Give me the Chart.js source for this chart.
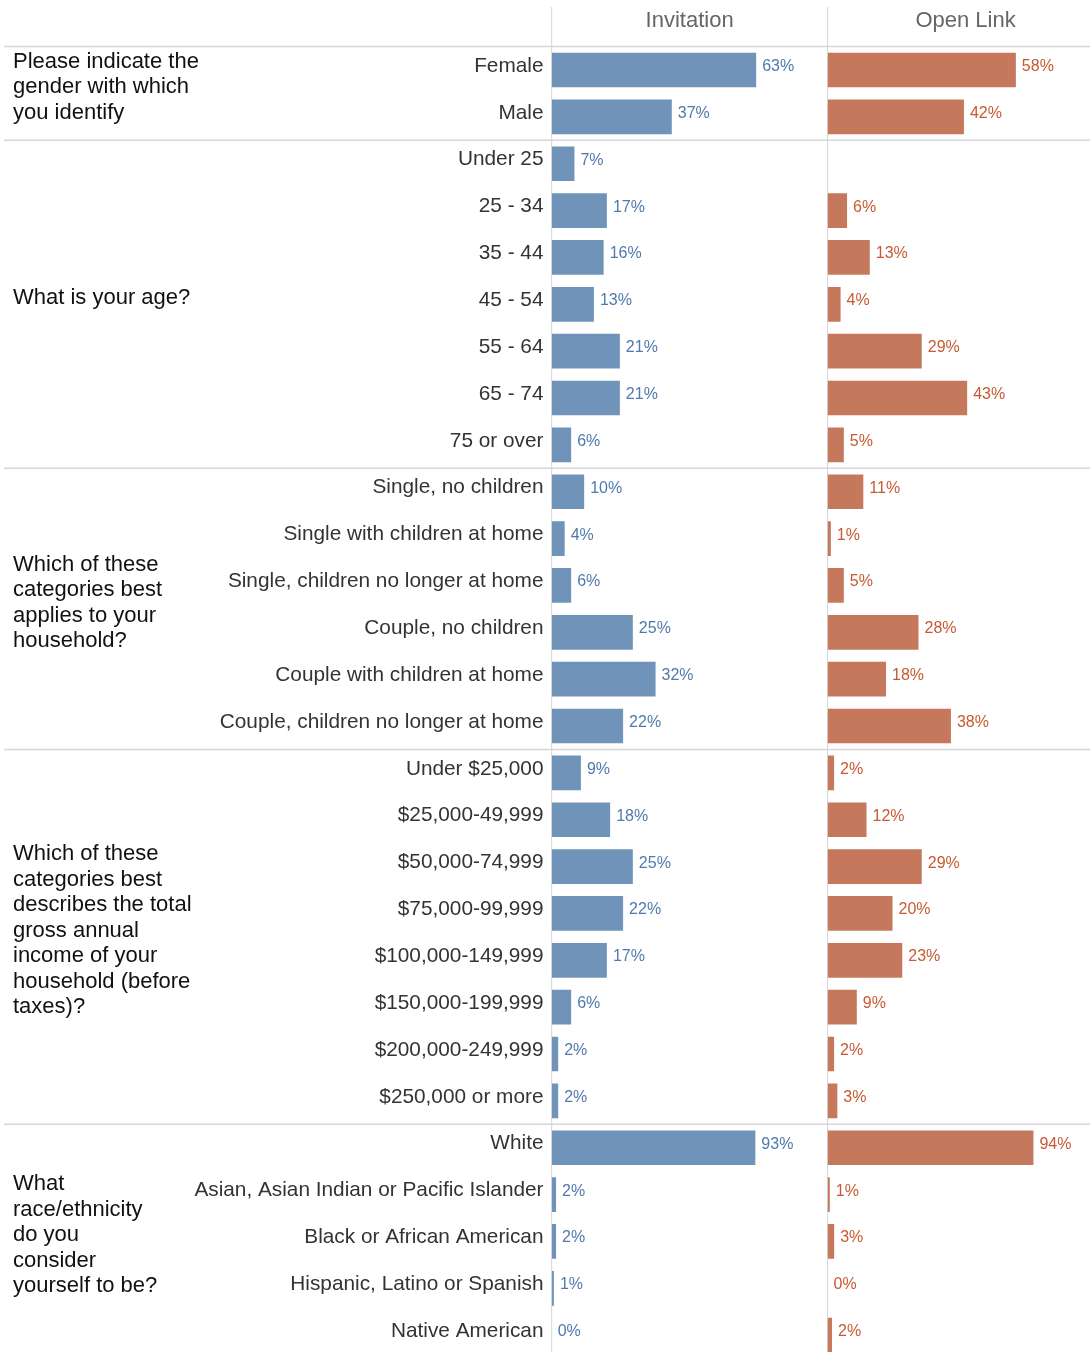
<!DOCTYPE html>
<html>
<head>
<meta charset="utf-8">
<title>Survey respondents by channel</title>
<script src="https://cdn.jsdelivr.net/npm/chart.js@4.4.1/dist/chart.umd.min.js"></script>
<style>
  html, body { margin: 0; padding: 0; background: #fff; }
  body { width: 1090px; height: 1352px; overflow: hidden; position: relative; }
  .panel { position: absolute; top: 0; height: 1359px; }
  #invitePanel { left: 0; width: 828px; }
  #openPanel { left: 827px; width: 277px; }
</style>
</head>
<body>
<div class="panel" id="invitePanel"><canvas id="inviteChart"></canvas></div>
<div class="panel" id="openPanel"><canvas id="openChart"></canvas></div>
<script>
// questions, answer categories and percentages per channel
const genderQuestion = ['Please indicate the', 'gender with which', 'you identify'];
const ageQuestion = ['What is your age?'];
const householdQuestion = ['Which of these', 'categories best', 'applies to your', 'household?'];
const incomeQuestion = ['Which of these', 'categories best', 'describes the total', 'gross annual',
  'income of your', 'household (before', 'taxes)?'];
const raceQuestion = ['What', 'race/ethnicity', 'do you', 'consider', 'yourself to be?'];

const genderLabels = ['Female', 'Male'];
const ageLabels = ['Under 25', '25 - 34', '35 - 44', '45 - 54', '55 - 64', '65 - 74', '75 or over'];
const householdLabels = ['Single, no children', 'Single with children at home',
  'Single, children no longer at home', 'Couple, no children', 'Couple with children at home',
  'Couple, children no longer at home'];
const incomeLabels = ['Under $25,000', '$25,000-49,999', '$50,000-74,999', '$75,000-99,999',
  '$100,000-149,999', '$150,000-199,999', '$200,000-249,999', '$250,000 or more'];
const raceLabels = ['White', 'Asian, Asian Indian or Pacific Islander', 'Black or African American',
  'Hispanic, Latino or Spanish', 'Native American'];

const inviteGender = [63, 37];
const inviteAge = [7, 17, 16, 13, 21, 21, 6];
const inviteHousehold = [10, 4, 6, 25, 32, 22];
const inviteIncome = [9, 18, 25, 22, 17, 6, 2, 2];
const inviteRace = [93, 2, 2, 1, 0];

const openGender = [58, 42];
const openAge = [null, 6, 13, 4, 29, 43, 5];
const openHousehold = [11, 1, 5, 28, 18, 38];
const openIncome = [2, 12, 29, 20, 23, 9, 2, 3];
const openRace = [94, 1, 3, 0, 2];

// race answers sit on a wider axis than the other questions
const mainAxisMax = 85;
const raceAxisMax = 126;

const groups = [
  { question: genderQuestion, labels: genderLabels, invite: inviteGender, open: openGender, axis: 'x' },
  { question: ageQuestion, labels: ageLabels, invite: inviteAge, open: openAge, axis: 'x' },
  { question: householdQuestion, labels: householdLabels, invite: inviteHousehold, open: openHousehold, axis: 'x' },
  { question: incomeQuestion, labels: incomeLabels, invite: inviteIncome, open: openIncome, axis: 'x' },
  { question: raceQuestion, labels: raceLabels, invite: inviteRace, open: openRace, axis: 'xr' },
];

const allLabels = groups.flatMap(g => g.labels);

function seriesFor(key, axis) {
  return groups.flatMap(g => g.labels.map((_, i) => (g.axis === axis ? g[key][i] : null)));
}

function makeDatasets(key, barColor, textColor) {
  return ['x', 'xr'].map(axis => ({
    data: seriesFor(key, axis),
    xAxisID: axis,
    backgroundColor: barColor,
    valueColor: textColor,
    grouped: false,
    barPercentage: 0.74,
    categoryPercentage: 1,
  }));
}

const FONT = '"Liberation Sans", Arial, sans-serif';
Chart.defaults.font.family = FONT;

function bandSize(y) {
  return y.getPixelForValue(1) - y.getPixelForValue(0);
}

// separators between questions plus the panel's left rule
const gridLines = {
  id: 'gridLines',
  beforeDatasetsDraw(chart, args, opts) {
    const { ctx, chartArea, scales: { y } } = chart;
    const band = bandSize(y);
    ctx.save();
    ctx.strokeStyle = '#d6d6d6';
    ctx.lineWidth = 1.5;
    let idx = 0;
    groups.forEach(g => {
      const yy = y.getPixelForValue(idx) - band / 2;
      ctx.beginPath();
      ctx.moveTo(opts.left, yy);
      ctx.lineTo(chart.width, yy);
      ctx.stroke();
      idx += g.labels.length;
    });
    ctx.lineWidth = 1;
    ctx.beginPath();
    ctx.moveTo(chartArea.left, 7);
    ctx.lineTo(chartArea.left, chartArea.bottom);
    ctx.stroke();
    ctx.restore();
  }
};

const panelHeader = {
  id: 'panelHeader',
  afterDraw(chart, args, opts) {
    const { ctx, chartArea } = chart;
    ctx.save();
    ctx.font = '22px ' + FONT;
    ctx.fillStyle = '#666666';
    ctx.textAlign = 'center';
    ctx.textBaseline = 'middle';
    ctx.fillText(opts.text, (chartArea.left + chartArea.right) / 2, 21);
    ctx.restore();
  }
};

const valueLabels = {
  id: 'valueLabels',
  afterDatasetsDraw(chart) {
    const { ctx } = chart;
    ctx.save();
    ctx.font = '16px ' + FONT;
    ctx.textAlign = 'left';
    ctx.textBaseline = 'middle';
    chart.data.datasets.forEach((ds, di) => {
      chart.getDatasetMeta(di).data.forEach((bar, i) => {
        const v = ds.data[i];
        if (v == null) return;
        ctx.fillStyle = ds.valueColor;
        ctx.fillText(v + '%', bar.x + 6, bar.y - 3.5);
      });
    });
    ctx.restore();
  }
};

// question text in the far left column
const questionLabels = {
  id: 'questionLabels',
  afterDraw(chart) {
    const { ctx, scales: { y } } = chart;
    const band = bandSize(y);
    const lineHeight = 25.5;
    ctx.save();
    ctx.font = '22px ' + FONT;
    ctx.fillStyle = '#111111';
    ctx.textAlign = 'left';
    ctx.textBaseline = 'alphabetic';
    let idx = 0;
    groups.forEach(g => {
      const top = y.getPixelForValue(idx) - band / 2;
      const mid = top + band * g.labels.length / 2 - 8;
      const n = g.question.length;
      g.question.forEach((line, i) => {
        ctx.fillText(line, 13, mid + (i - (n - 1) / 2) * lineHeight + 7.9);
      });
      idx += g.labels.length;
    });
    ctx.restore();
  }
};

function xScales() {
  return {
    x: { type: 'linear', min: 0, max: mainAxisMax, display: false },
    xr: { type: 'linear', min: 0, max: raceAxisMax, display: false },
  };
}

new Chart(document.getElementById('inviteChart'), {
  type: 'bar',
  data: {
    labels: allLabels,
    datasets: makeDatasets('invite', '#7094b9', '#4f7aac'),
  },
  options: {
    indexAxis: 'y',
    responsive: true,
    maintainAspectRatio: false,
    animation: false,
    layout: { padding: { top: 46.6, bottom: 0.4, left: 0, right: 0.4 } },
    scales: {
      ...xScales(),
      y: {
        type: 'category',
        position: 'left',
        grid: { display: false, drawTicks: false },
        border: { display: false },
        ticks: {
          autoSkip: false,
          padding: 8.2,
          labelOffset: -4,
          color: '#333333',
          font: { size: 20.8 },
        },
        afterFit(scale) {
          scale.width = 551.7;
          scale.paddingTop = 0;
          scale.paddingBottom = 0;
        },
      },
    },
    plugins: {
      legend: { display: false },
      tooltip: { enabled: false },
      gridLines: { left: 4 },
      panelHeader: { text: 'Invitation' },
    },
  },
  plugins: [gridLines, panelHeader, valueLabels, questionLabels],
});

new Chart(document.getElementById('openChart'), {
  type: 'bar',
  data: {
    labels: allLabels,
    datasets: makeDatasets('open', '#c5785c', '#c65a32'),
  },
  options: {
    indexAxis: 'y',
    responsive: true,
    maintainAspectRatio: false,
    animation: false,
    layout: { padding: { top: 46.6, bottom: 0.4, left: 0.6, right: 0.5 } },
    scales: {
      ...xScales(),
      y: { type: 'category', display: false },
    },
    plugins: {
      legend: { display: false },
      tooltip: { enabled: false },
      gridLines: { left: 0 },
      panelHeader: { text: 'Open Link' },
    },
  },
  plugins: [gridLines, panelHeader, valueLabels],
});
</script>
</body>
</html>
